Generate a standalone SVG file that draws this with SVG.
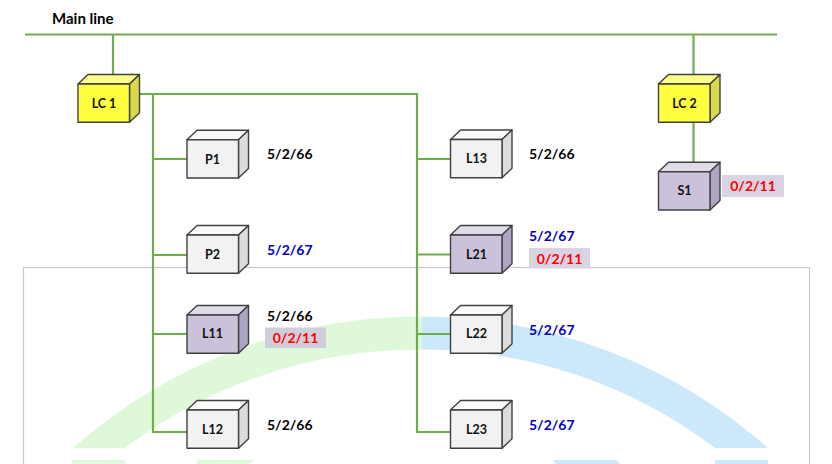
<svg xmlns="http://www.w3.org/2000/svg" width="832" height="464" viewBox="0 0 832 464">
<style>
text{font-family:"Lato","Liberation Sans",sans-serif;font-weight:700}
.c{fill:none;stroke:#6fae4c;stroke-width:2.2}
.f{stroke:#404040;stroke-width:1.4;stroke-linejoin:round}
.n{font-size:12.500px;fill:#111;text-anchor:middle}
.v{font-size:14px}
.k{fill:#000}.b{fill:#0000c0}.r{fill:#ff0000;text-anchor:middle}
.yf{fill:#ffff40}.yt{fill:#ffff8c}.ys{fill:#d8d848}
.gf{fill:#f2f2f2}.gt{fill:#fafafa}.gs{fill:#dcdcdc}
.pf{fill:#ccc1da}.pt{fill:#e0dbe9}.ps{fill:#aea4c4}
</style>
<defs>
<g id="front"><path class="f" d="M0 0h51.500v38.300H0z"/></g>
</defs>
<rect x="0" y="0" width="832" height="464" fill="#fff"/>
<g id="background">
<rect x="23.500" y="267.500" width="786" height="200" fill="#fff" stroke="#c8c8c8" stroke-width="1.2"/>
<path fill="#dff8d9" d="M73 448A523.600 523.600 0 0 1 421.500 316.500V349.500A488 488 0 0 0 125 448Z"/>
<path fill="#cce8fb" d="M421.500 316.500A523.600 523.600 0 0 1 768 448H715A488 488 0 0 0 421.500 349.500Z"/>
<path fill="#dff8d9" d="M72 460H125V464H72ZM198 460H255L248 464H196Z"/>
<path fill="#cce8fb" d="M553 460H617L620 464H556ZM715 460H768V464H715Z"/>
</g>
<g id="connectors">
<path class="c" d="M25 34.500H777M113 34.500V75M693.500 34.500V75M693.500 122V163M139 94H417V432H451M153 94V432H187M153 159H187M153 255H187M153 334H187M417 159H451M417 254.500H451M417 334H451"/>
</g>
<g id="main-line"><text x="52" y="24" font-size="15" fill="#000">Main line</text></g>
<g id="LC1"><path class="f yt" d="M78 84l10-9.500h51.500l-10 9.500z"/><path class="f ys" d="M129.500 84l10-9.500v38.300l-10 9.500z"/><use href="#front" x="78" y="84" class="yf"/><text class="n" x="104" y="107.500">LC 1</text></g>
<g id="LC2"><path class="f yt" d="M658.500 84l10-9.500H720l-10 9.500z"/><path class="f ys" d="M710 84l10-9.500v38.300l-10 9.500z"/><use href="#front" x="658.500" y="84" class="yf"/><text class="n" x="684.500" y="107.500">LC 2</text></g>
<g id="S1"><path class="f pt" d="M658.500 171.700l10-9.500H720l-10 9.500z"/><path class="f ps" d="M710 171.700l10-9.500v38.300l-10 9.500z"/><use href="#front" x="658.500" y="171.700" class="pf"/><text class="n" x="684.500" y="195">S1</text></g>
<g id="S1-label"><rect x="722" y="175" width="62" height="22" fill="#d9d3e3"/><text class="v r" x="753" y="191">0/2/11</text></g>
<g id="P1"><path class="f gt" d="M187 139.700l10-9.500h51.500l-10 9.500z"/><path class="f gs" d="M238.500 139.700l10-9.500v38.300l-10 9.500z"/><use href="#front" x="187" y="139.700" class="gf"/><text class="n" x="212.500" y="163.500">P1</text></g>
<g id="P1-label"><text class="v k" x="267" y="159">5/2/66</text></g>
<g id="P2"><path class="f gt" d="M187 235l10-9.500h51.500l-10 9.500z"/><path class="f gs" d="M238.500 235l10-9.500v38.300l-10 9.500z"/><use href="#front" x="187" y="235" class="gf"/><text class="n" x="212.500" y="258.500">P2</text></g>
<g id="P2-label"><text class="v b" x="267" y="255">5/2/67</text></g>
<g id="L11"><path class="f pt" d="M187 315l10-9.500h51.500l-10 9.500z"/><path class="f ps" d="M238.500 315l10-9.500v38.300l-10 9.500z"/><use href="#front" x="187" y="315" class="pf"/><text class="n" x="212.500" y="338">L11</text></g>
<g id="L11-label"><text class="v k" x="267" y="321">5/2/66</text><rect x="265" y="327.500" width="61" height="20.500" fill="#cfcfdb"/><text class="v r" x="295.500" y="343">0/2/11</text></g>
<g id="L12"><path class="f gt" d="M187 410l10-9.500h51.500l-10 9.500z"/><path class="f gs" d="M238.500 410l10-9.500v38.300l-10 9.500z"/><use href="#front" x="187" y="410" class="gf"/><text class="n" x="212.500" y="434">L12</text></g>
<g id="L12-label"><text class="v k" x="267" y="430">5/2/66</text></g>
<g id="L13"><path class="f gt" d="M450.500 139.500l10-9.500H512l-10 9.500z"/><path class="f gs" d="M502 139.500l10-9.500v38.300l-10 9.500z"/><use href="#front" x="450.500" y="139.500" class="gf"/><text class="n" x="476.500" y="163">L13</text></g>
<g id="L13-label"><text class="v k" x="529" y="159">5/2/66</text></g>
<g id="L21"><path class="f pt" d="M450.500 235l10-9.500H512l-10 9.500z"/><path class="f ps" d="M502 235l10-9.500v38.300l-10 9.500z"/><use href="#front" x="450.500" y="235" class="pf"/><text class="n" x="476.500" y="258.500">L21</text></g>
<g id="L21-label"><text class="v b" x="529" y="241">5/2/67</text><rect x="529" y="248" width="61" height="20.500" fill="#d9d3e3"/><text class="v r" x="559.500" y="264">0/2/11</text></g>
<g id="L22"><path class="f gt" d="M450.500 315l10-9.500H512l-10 9.500z"/><path class="f gs" d="M502 315l10-9.500v38.300l-10 9.500z"/><use href="#front" x="450.500" y="315" class="gf"/><text class="n" x="476.500" y="338">L22</text></g>
<g id="L22-label"><text class="v b" x="529" y="334.500">5/2/67</text></g>
<g id="L23"><path class="f gt" d="M450.500 410l10-9.500H512l-10 9.500z"/><path class="f gs" d="M502 410l10-9.500v38.300l-10 9.500z"/><use href="#front" x="450.500" y="410" class="gf"/><text class="n" x="476.500" y="434">L23</text></g>
<g id="L23-label"><text class="v b" x="529" y="430">5/2/67</text></g>
</svg>
